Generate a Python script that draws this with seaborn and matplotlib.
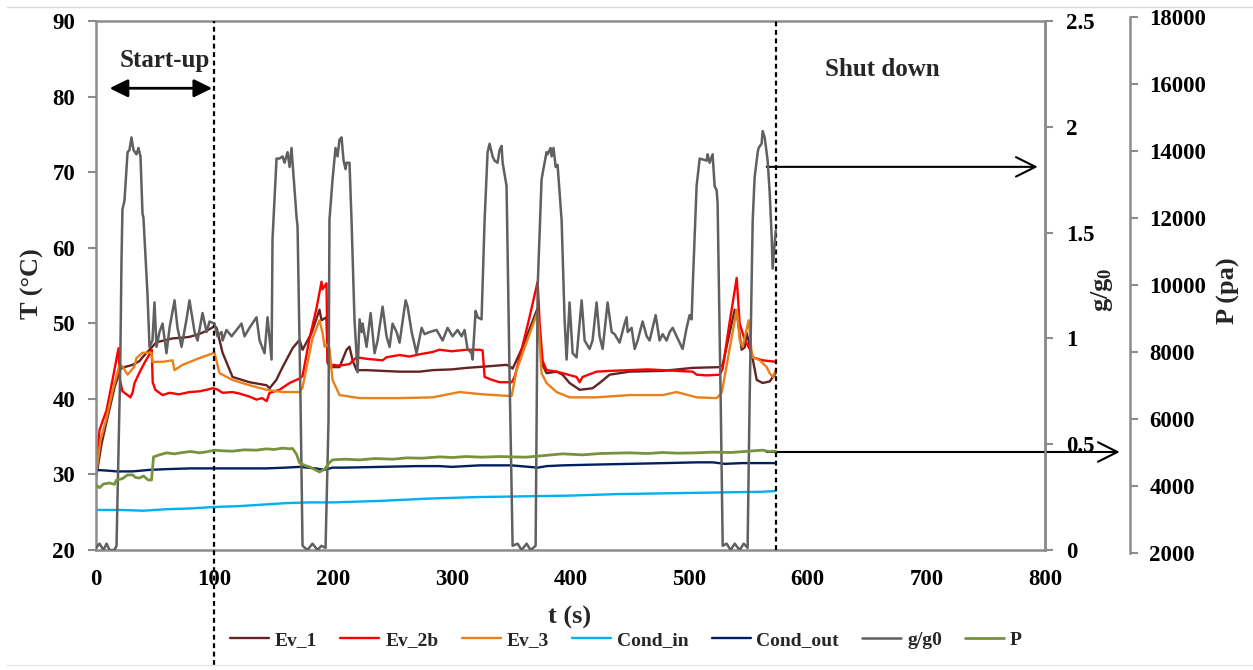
import matplotlib
matplotlib.use("Agg")
import matplotlib.pyplot as plt
import pandas as pd
import seaborn as sns
from matplotlib.lines import Line2D
from matplotlib.ticker import FuncFormatter

sns.set_style("white")
plt.rcParams['font.family'] = ['Liberation Serif', 'DejaVu Serif']
plt.rcParams['font.weight'] = 'bold'
plt.rcParams['mathtext.fontset'] = 'custom'
plt.rcParams['mathtext.rm'] = 'Liberation Serif:bold'
plt.rcParams['mathtext.it'] = 'Liberation Serif:bold'
plt.rcParams['mathtext.bf'] = 'Liberation Serif:bold'

# ---------------- data (t [s], value) ----------------
ev1 = [(0, 29.5), (4.6, 34.0), (9.7, 37.5), (15.6, 41.5), (20.7, 44.0), (24, 44.2), (30.8, 44.5),
       (36.7, 45.0), (39.2, 45.5), (45.1, 46.5), (51.0, 47.5), (59.4, 47.8), (64.5, 48.0),
       (72.9, 48.1), (78.8, 48.2), (87.3, 48.6), (93.2, 49.0), (99.9, 49.6), (101.6, 49.4),
       (106.7, 46.1), (115.1, 42.9), (129.4, 42.2), (143.8, 41.8), (146.3, 41.4), (152, 42.5),
       (157.3, 44.2), (165.7, 46.7), (171.6, 47.8), (174.1, 46.5), (181.7, 48.7), (188.4, 51.8),
       (190.1, 50.4), (194.3, 50.8), (195.2, 45.0), (196.8, 44.2), (205.3, 44.2), (211.2, 46.5),
       (213.7, 46.9), (216.3, 45.1), (219.6, 43.8), (228.1, 43.8), (241.6, 43.7), (255.9, 43.6),
       (272.8, 43.6), (283.7, 43.8), (300, 43.9), (312.4, 44.1), (330, 44.3), (346.1, 44.5),
       (348.7, 44.3), (351.2, 44.0), (360, 47.0), (372.3, 52.0), (374.5, 47.0), (376.5, 44.5),
       (379.8, 43.4), (388.3, 43.6), (393.3, 43.2), (399.2, 42.1), (407.7, 41.2), (418.6, 41.4),
       (424.5, 42.1), (433.0, 43.2), (449.8, 43.6), (477.7, 43.7), (503.0, 44.1), (525.7, 44.2),
       (528.3, 44.5), (538.4, 51.8), (540.1, 51.5), (544.3, 46.5), (546.8, 46.8), (548.5, 48.7),
       (552.7, 46.0), (557.0, 42.5), (562.0, 42.1), (567.9, 42.3), (573, 43.4)]

ev2b = [(0, 30.5), (3.0, 35.9), (8.9, 38.5), (13.9, 42.5), (19.0, 46.7), (20.2, 42.5), (22.3, 41.0),
        (26.6, 40.5), (29.0, 40.2), (30.8, 40.8), (32.5, 42.1), (36.7, 43.5), (41, 44.8),
        (45.5, 46.0), (47.0, 46.5), (47.8, 42.2), (50, 41.2), (56.1, 40.5), (62, 40.8), (70, 40.6),
        (78.8, 40.9), (87.3, 41.0), (93.2, 41.2), (98.2, 41.4), (101.6, 41.3), (106.7, 40.8),
        (115, 40.9), (121, 40.7), (129.4, 40.3), (135.3, 39.9), (140, 40.1), (143.8, 39.7),
        (146.3, 40.8), (154.7, 41.2), (163.2, 42.1), (171.6, 42.7), (174.1, 43.0), (180, 48.0),
        (185.9, 52.0), (190.1, 55.5), (191.0, 54.5), (194.3, 55.3), (195.2, 44.7), (199.4, 44.5),
        (205.3, 44.4), (213.7, 44.6), (219.6, 45.5), (228.1, 45.3), (241.6, 45.1), (244.9, 45.5),
        (255.9, 45.8), (264.3, 45.6), (272.8, 45.9), (283.7, 46.2), (289.6, 46.5), (300, 46.3),
        (312.4, 46.5), (323.4, 46.5), (325.9, 46.4), (327.6, 42.9), (334, 42.5), (340.2, 42.2),
        (350.4, 42.2), (352.9, 42.9), (358, 46.0), (365, 50.5), (372.3, 55.5), (374.0, 50.0),
        (376.5, 45.0), (379.8, 43.8), (388.3, 43.6), (393.3, 43.4), (405.1, 42.9), (407.7, 42.2),
        (410.2, 42.9), (422.0, 43.6), (433, 43.7), (449.8, 43.8), (465, 43.9), (477.7, 43.8),
        (490, 43.7), (503.0, 43.6), (506.3, 43.2), (515, 43.1), (525.7, 43.2), (528.3, 44.0),
        (534, 50.0), (540.1, 56.0), (542.6, 50.0), (545.1, 48.7), (546.8, 47.8), (552.7, 46.1),
        (553.6, 45.5), (562.0, 45.1), (567.9, 45.0), (573, 44.9)]

ev3 = [(0, 30.0), (3.8, 34.5), (8.9, 37.5), (13.9, 41.0), (19.8, 44.5), (22.3, 44.3), (26.6, 43.2),
       (29.9, 43.8), (32.5, 44.3), (34.1, 45.4), (39.2, 46.1), (46.8, 46.1), (47.6, 44.9),
       (56.1, 44.9), (64.5, 45.1), (66.2, 43.8), (72.9, 44.5), (87.3, 45.4), (99.9, 46.1),
       (104.1, 43.4), (115.1, 42.5), (129.4, 41.8), (143.8, 41.2), (157.3, 40.9), (171.6, 40.9),
       (174.1, 41.5), (182.5, 48.0), (188.4, 50.4), (191.0, 48.7), (192.7, 46.9), (194.3, 47.2),
       (196.8, 46.7), (199.4, 42.5), (205.3, 40.5), (222.2, 40.1), (255.9, 40.1), (283.7, 40.2),
       (306.5, 40.9), (325.9, 40.6), (346.1, 40.4), (350.4, 40.4), (354.6, 43.8), (363, 47.5),
       (372.3, 51.5), (375.6, 43.4), (379.8, 42.1), (388.3, 40.9), (399.2, 40.2), (422.0, 40.2),
       (449.8, 40.5), (477.7, 40.5), (489.5, 40.9), (506.3, 40.2), (523.2, 40.1), (527.4, 40.8),
       (528.3, 41.5), (534, 46.5), (540.1, 51.8), (540.9, 51.0), (542.6, 47.8), (545.1, 46.9),
       (550.2, 50.4), (552.7, 46.1), (553.6, 45.5), (559.5, 45.1), (565.4, 44.2), (567.9, 43.4),
       (570.4, 42.9), (573, 43.8)]

cond_in = [(0, 25.3), (20, 25.3), (40, 25.2), (60, 25.4), (80, 25.5), (100, 25.7), (120, 25.8),
           (140, 26.0), (160, 26.2), (180, 26.3), (200, 26.3), (240, 26.5), (280, 26.8),
           (320, 27.0), (360, 27.1), (400, 27.2), (440, 27.4), (480, 27.5), (520, 27.6),
           (560, 27.7), (573, 27.8)]

cond_out = [(0, 30.6), (10, 30.5), (17.3, 30.4), (30.8, 30.4), (45, 30.6), (59.4, 30.7), (80, 30.8),
            (98.2, 30.8), (120, 30.8), (143.8, 30.8), (160, 30.9), (171.6, 31.0), (185, 30.8),
            (192.7, 30.6), (199.4, 30.9), (210, 30.9), (240, 31.0), (270, 31.1), (289.6, 31.1),
            (300, 31.0), (323.4, 31.2), (350, 31.2), (365, 31.0), (372.3, 30.9), (380, 31.1),
            (393.3, 31.2), (420, 31.3), (449.8, 31.4), (480, 31.5), (506.3, 31.6), (520, 31.6),
            (530, 31.4), (545, 31.5), (560, 31.5), (573, 31.5)]

g_g0 = [(0, 0.01), (3, 0.03), (6.3, 0.0), (8.9, 0.03), (11.4, 0.0), (15.6, 0.0), (17.3, 0.02),
        (20.4, 0.85), (21.5, 1.37), (22.3, 1.61), (24.0, 1.65), (26.6, 1.88), (28.2, 1.89),
        (29.9, 1.95), (31.6, 1.89), (34.1, 1.87), (35.8, 1.90), (37.5, 1.86), (39.2, 1.59),
        (40.0, 1.57), (43.4, 1.21), (45.1, 0.96), (47.6, 0.99), (49.3, 1.17), (51.0, 0.96),
        (53.5, 1.03), (56.1, 1.07), (59.4, 0.93), (62.0, 1.05), (66.2, 1.18), (68.7, 1.05),
        (72.1, 0.96), (76.3, 1.09), (78.8, 1.18), (83.1, 1.03), (85.6, 0.99), (89.8, 1.12),
        (93.2, 1.03), (95.7, 1.08), (99.9, 1.07), (102.4, 1.01), (105.8, 1.03), (106.7, 0.99),
        (110.0, 1.04), (114.3, 1.01), (118.5, 1.04), (122.7, 1.07), (125.2, 1.01), (129.4, 1.05),
        (135.3, 1.10), (137.9, 0.99), (142.1, 0.93), (144.6, 1.10), (148.0, 0.90), (148.8, 1.47),
        (152.2, 1.85), (154.7, 1.85), (157.3, 1.86), (158.9, 1.83), (161.5, 1.88), (163.2, 1.81),
        (164.8, 1.90), (165.7, 1.83), (167.4, 1.70), (169.1, 1.57), (169.9, 1.53), (172.4, 0.71),
        (174.1, 0.02), (178.3, 0.0), (182.5, 0.03), (186.7, 0.0), (190.1, 0.02), (193.5, 0.01),
        (196.0, 0.61), (196.8, 1.56), (199.4, 1.75), (201.9, 1.90), (203.6, 1.86), (205.3, 1.94),
        (207.0, 1.95), (208.7, 1.84), (210.4, 1.80), (211.2, 1.83), (213.7, 1.83), (215.4, 1.56),
        (217.9, 1.09), (220.5, 0.84), (222.2, 1.09), (223.9, 1.03), (224.7, 1.07), (228.1, 0.96),
        (231.5, 1.12), (234.8, 0.93), (237.4, 0.99), (241.6, 1.15), (244.9, 1.01), (247.5, 0.96),
        (250.0, 1.07), (253.4, 1.03), (255.9, 0.98), (261.0, 1.18), (262.7, 1.15), (266.1, 1.03),
        (270.2, 0.93), (274.5, 1.05), (277.0, 1.02), (281.2, 1.03), (287.1, 1.04), (292.2, 0.99),
        (296.4, 1.05), (300.6, 1.01), (304.8, 1.04), (308.2, 1.01), (310.7, 1.04), (313.2, 0.95),
        (316.6, 0.93), (317.5, 0.90), (320.0, 1.13), (321.7, 1.10), (325.0, 1.09), (327.6, 1.56),
        (330.1, 1.88), (331.8, 1.92), (334.3, 1.86), (336.0, 1.84), (338.5, 1.83), (340.2, 1.89),
        (341.9, 1.91), (342.8, 1.83), (346.1, 1.72), (348.7, 0.80), (351.2, 0.02), (355.4, 0.03),
        (358.8, 0.0), (363.0, 0.03), (366.4, 0.0), (370.6, 0.02), (372.3, 1.24), (375.6, 1.75),
        (376.5, 1.78), (379.8, 1.88), (380.7, 1.87), (383.2, 1.90), (384.1, 1.86), (385.7, 1.90),
        (387.5, 1.81), (389.1, 1.82), (392.5, 1.56), (395.0, 1.09), (396.7, 0.90), (399.2, 1.17),
        (401.8, 0.93), (405.1, 0.91), (409.4, 1.18), (411.9, 0.99), (416.1, 0.95), (418.6, 0.99),
        (422.0, 1.17), (424.5, 1.01), (427.1, 0.95), (431.3, 1.17), (434.7, 1.03), (437.2, 1.02),
        (441.4, 0.98), (445.6, 1.07), (447.3, 1.10), (448.2, 1.03), (451.5, 1.05), (454.1, 0.95),
        (456.6, 0.99), (460.8, 1.08), (464.2, 1.01), (466.7, 0.99), (471.8, 1.11), (475.1, 0.99),
        (477.7, 1.02), (481.0, 0.99), (483.6, 1.03), (486.1, 1.05), (489.5, 1.01), (492.0, 0.98),
        (494.5, 0.95), (497.9, 1.05), (500.4, 1.11), (502.1, 1.09), (503.0, 1.24), (506.3, 1.72),
        (508.9, 1.85), (514.8, 1.84), (515.6, 1.87), (517.3, 1.83), (519.8, 1.87), (521.5, 1.72),
        (523.2, 1.70), (524.0, 1.64), (526.6, 0.71), (528.3, 0.02), (531.6, 0.03), (535.0, 0.0),
        (538.4, 0.03), (542.6, 0.0), (546.0, 0.03), (549.3, 0.01), (551.0, 0.71), (553.6, 1.56),
        (555.2, 1.76), (557.8, 1.88), (558.6, 1.90), (561.1, 1.92), (562.0, 1.98), (563.7, 1.95),
        (566.2, 1.84), (567.9, 1.69), (569.6, 1.48), (570.4, 1.33), (573.0, 1.51)]

pressure = [(0, 4030), (3, 3950), (6.3, 4060), (11.4, 4090), (15.6, 4050), (17.3, 4180), (22.3, 4220),
            (26.6, 4330), (30.8, 4330), (33.5, 4250), (36.7, 4240), (40, 4300), (44, 4180),
            (46.8, 4180), (47.6, 4500), (48.5, 4870), (53.5, 4930), (59.4, 4990), (66.2, 4960),
            (72.9, 5000), (80, 5030), (87.3, 4990), (93.2, 5020), (99.9, 5070), (106.7, 5050),
            (115, 5040), (125, 5080), (135.3, 5070), (143.8, 5110), (150, 5090), (157.3, 5130),
            (163.2, 5110), (165.7, 5120), (169, 4950), (171.6, 4690), (177, 4600), (180, 4570),
            (185, 4480), (188.4, 4420), (192.7, 4500), (196.8, 4700), (199.4, 4780), (210, 4800),
            (222.2, 4780), (235, 4820), (250, 4800), (262, 4840), (275, 4830), (289.6, 4870),
            (300, 4850), (312, 4880), (325, 4860), (340, 4880), (350.4, 4870), (362, 4860),
            (375, 4900), (393.3, 4960), (410, 4930), (425, 4970), (449.8, 4990), (465, 4970),
            (477.7, 5000), (490, 4980), (506.3, 4990), (520, 5010), (535, 5000), (550, 5040),
            (562, 5070), (567, 5030), (573, 5040)]

t_ticks = [0, 100, 200, 300, 400, 500, 600, 700, 800]
T_ticks = [20, 30, 40, 50, 60, 70, 80, 90]
g_ticks = [0, 0.5, 1, 1.5, 2, 2.5]
P_ticks = [2000, 4000, 6000, 8000, 10000, 12000, 14000, 16000, 18000]
startup_end = 99.5
shutdown_start = 573.0

# ---------------- figure ----------------
W, H = 1253, 670
fig = plt.figure(figsize=(W / 100, H / 100), dpi=100)
L, R, TOP, BOT = 96, 1045, 21, 550
ax = fig.add_axes([L / W, 1 - BOT / H, (R - L) / W, (BOT - TOP) / H])
axg = ax.twinx()
axP = fig.add_axes([L / W, 1 - 553 / H, (R - L) / W, (553 - 17) / H])
axP.patch.set_visible(False)

grey = '#8c8c8c'


def draw(axis, pts, color, lw, label):
    t, v = zip(*pts)
    df = pd.DataFrame({'t': t, 'v': v})
    sns.lineplot(data=df, x='t', y='v', ax=axis, color=color, lw=lw, label=label,
                 legend=False, errorbar=None, estimator=None, sort=False)
    axis.set_xlabel('')
    axis.set_ylabel('')


draw(ax, ev1, '#632523', 1.7, 'Ev_1')
draw(ax, ev2b, '#ff0000', 1.7, 'Ev_2b')
draw(ax, ev3, '#e9801a', 1.7, 'Ev_3')
draw(ax, cond_in, '#00b0f0', 1.7, 'Cond_in')
draw(ax, cond_out, '#002060', 1.7, 'Cond_out')
draw(axg, g_g0, '#606060', 1.8, 'g/g0')
draw(axP, pressure, '#77933c', 2.0, 'P')

for a in (ax, axg, axP):
    a.set_xlim(0, 800)

ax.set_ylim(20, 90)
axg.set_ylim(0, 2.5)
axP.set_ylim(2000, 18000)

ax.set_xticks(t_ticks)
ax.set_yticks(T_ticks)
axg.set_yticks(g_ticks)
axP.set_yticks(P_ticks)
axP.set_xticks([])
axg.yaxis.set_major_formatter(FuncFormatter(lambda v, p: '%g' % v))

for s in ax.spines.values():
    s.set_color(grey)
    s.set_linewidth(1.8)
for name, s in axg.spines.items():
    s.set_visible(name == 'right')
    s.set_color(grey)
    s.set_linewidth(1.8)
for name, s in axP.spines.items():
    s.set_visible(name == 'right')
    s.set_color(grey)
    s.set_linewidth(1.8)
axP.spines['right'].set_position(('axes', (1130 - L) / (R - L)))
axP.yaxis.tick_right()

tick_kw = dict(direction='out', length=6, width=1.5, color=grey, labelcolor='black',
               labelsize=16.5)
ax.tick_params(axis='x', pad=8, **tick_kw)
ax.tick_params(axis='y', pad=9, left=True, right=False, **tick_kw)
axg.tick_params(axis='y', pad=9, **tick_kw)
axP.tick_params(axis='y', pad=8, **tick_kw)
axP.tick_params(axis='x', bottom=False, labelbottom=False)
for a in (ax, axg, axP):
    for lab in a.get_xticklabels() + a.get_yticklabels():
        lab.set_fontweight('bold')
    a.grid(False)

# event markers
for xv, ymin in ((startup_end, -(665 - BOT) / (BOT - TOP)), (shutdown_start, 0)):
    ax.axvline(xv, ymin=ymin, ymax=1, color='black', lw=1.6, ls=(0, (2.2, 1.6)),
               clip_on=False, zorder=5)

ax.annotate('', xy=(98, 81.1), xytext=(11.4, 81.1),
            arrowprops=dict(arrowstyle='<|-|>,head_length=0.55,head_width=0.27', lw=2,
                            color='black', mutation_scale=20, shrinkA=0, shrinkB=0))
ax.text(19.8, 84.8, 'Start-up', fontsize=18, fontweight='bold', ha='left', va='center')
ax.text(614.3, 83.6, 'Shut down', fontsize=18, fontweight='bold', ha='left', va='center')

ax.annotate('', xy=(793.9, 70.7), xytext=(565.4, 70.7), annotation_clip=False,
            arrowprops=dict(arrowstyle='->,head_length=1.0,head_width=0.5', lw=1.5,
                            color='black', mutation_scale=14, shrinkA=0, shrinkB=0))
ax.annotate('', xy=(863.0, 32.97), xytext=(565.4, 32.97), annotation_clip=False,
            arrowprops=dict(arrowstyle='->,head_length=1.0,head_width=0.5', lw=1.5,
                            color='black', mutation_scale=14, shrinkA=0, shrinkB=0))

# axis titles
fig.text(32 / W, 1 - 284 / H, 'T (°C)', rotation=90, fontsize=19, fontweight='bold',
         ha='center', va='center')
fig.text(570 / W, 1 - 617 / H, 't (s)', fontsize=19, fontweight='bold', ha='center', va='center')
fig.text(1102 / W, 1 - 290 / H, r'$\mathregular{g/g_0}$', rotation=90, fontsize=19,
         fontweight='bold', ha='center', va='center')
fig.text(1228 / W, 1 - 291 / H, 'P (pa)', rotation=90, fontsize=19, fontweight='bold',
         ha='center', va='center')

# legend
handles, labels = [], []
for a in (ax, axg, axP):
    h, l = a.get_legend_handles_labels()
    handles += h
    labels += l
fig.legend(handles, labels, loc='center', bbox_to_anchor=(626 / W, 1 - 640 / H), ncol=7,
           frameon=False, prop=dict(size=14, weight='bold'), handlelength=2.0,
           handletextpad=0.3, columnspacing=1.2)

# light frame lines
fig.add_artist(Line2D([7 / W, 1], [1 - 7 / H, 1 - 7 / H], color='#dcdcdc', lw=1,
                      transform=fig.transFigure))
fig.add_artist(Line2D([7 / W, 1], [1 - 665 / H, 1 - 665 / H], color='#e6e6e6', lw=1,
                      transform=fig.transFigure))

fig.savefig('out.png', dpi=100)
